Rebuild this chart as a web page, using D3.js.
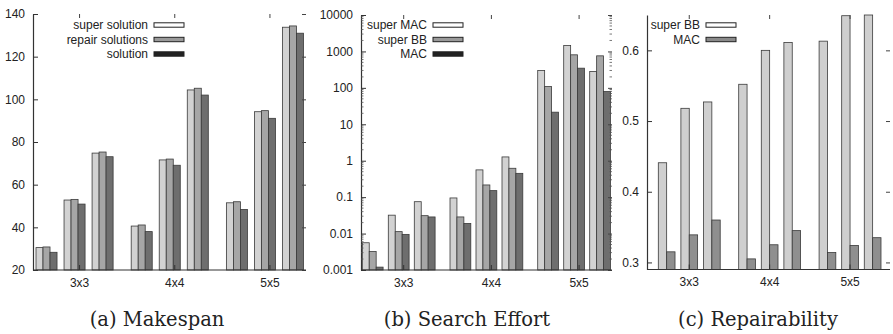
<!DOCTYPE html>
<html><head><meta charset="utf-8">
<script src="https://cdn.jsdelivr.net/npm/d3@7"></script>
<style>
body{margin:0;background:#fff;}
svg{display:block;}
.lbl,.tick text{font-family:"Liberation Sans",Arial,Helvetica,sans-serif;font-size:12px;fill:#222;}
.cap{font-family:"DejaVu Serif",serif;font-size:19.5px;fill:#222;}
</style></head><body>
<svg id="chart" width="893" height="334"></svg>
<script>
// ---------- data ----------
const groups = ["3x3", "4x4", "5x5"];
const instances = ["p1", "p2", "p3"];

const makespanSeries = ["super solution", "repair solutions", "solution"];
const makespanSuper    = [30.5, 52.8, 74.8, 40.6, 71.6, 104.4, 51.5, 94.2, 133.8];
const makespanRepair   = [30.8, 53.1, 75.3, 41.1, 72.0, 105.2, 52.0, 94.7, 134.4];
const makespanSolution = [28.3, 50.9, 73.1, 38.0, 69.1, 102.0, 48.4, 91.1, 131.0];
const makespanTicks = [20, 40, 60, 80, 100, 120, 140];

const effortSeries = ["super MAC", "super BB", "MAC"];
const effortSuperMAC = [0.0056, 0.032, 0.075, 0.095, 0.56, 1.27, 299, 1452, 281];
const effortSuperBB  = [0.0032, 0.0113, 0.031, 0.0286, 0.216, 0.62, 109, 807, 757];
const effortMAC      = [0.0012, 0.0095, 0.0286, 0.019, 0.151, 0.45, 21.5, 347, 79];
const effortTicks = [0.001, 0.01, 0.1, 1, 10, 100, 1000, 10000];
const effortTickLabels = ["0.001", "0.01", "0.1", "1", "10", "100", "1000", "10000"];

const repairSeries = ["super BB", "MAC"];
const repairSuperBB = [0.441, 0.518, 0.527, 0.552, 0.600, 0.611, 0.613, 0.649, 0.650];
const repairMAC     = [0.315, 0.339, 0.360, 0.305, 0.325, 0.345, 0.314, 0.324, 0.335];
const repairTicks = [0.3, 0.4, 0.5, 0.6];

const captions = ["(a) Makespan", "(b) Search Effort", "(c) Repairability"];

// ---------- styles ----------
const barFill3 = ["#d2d2d2", "#a6a6a6", "#6e6e6e"];
const barFill2 = ["#cfcfcf", "#8f8f8f"];
const legendFill3 = ["#ffffff", "#9a9a9a", "#222222"];
const legendFill2 = ["#ffffff", "#8a8a8a"];

const svg = d3.select("#chart");

const panels = [
  { series: makespanSeries, values: [makespanSuper, makespanRepair, makespanSolution],
    type: "linear", domain: [20, 140], ticks: makespanTicks, fmt: d => String(d),
    left: 33, right: 306, top: 14, bottom: 270,
    gRange: [36, 303.5], gPad: 0.19, iPad: 0.25, tickShift: 5,
    fills: barFill3, legFills: legendFill3, legEnd: 148, legY: [25, 39.5, 54],
    caption: captions[0], capX: 157 },
  { series: effortSeries, values: [effortSuperMAC, effortSuperBB, effortMAC],
    type: "log", domain: [0.001, 10000], ticks: effortTicks, fmt: d => effortTickLabels[effortTicks.indexOf(d)],
    left: 361, right: 612, top: 15, bottom: 270,
    gRange: [362.3, 610.5], gPad: 0.17, iPad: 0.2, tickShift: 5,
    fills: barFill3, legFills: legendFill3, legEnd: 427, legY: [25, 39.5, 54],
    caption: captions[1], capX: 467 },
  { series: repairSeries, values: [repairSuperBB, repairMAC],
    type: "linear", domain: [0.29, 0.65], ticks: repairTicks, fmt: d => d.toFixed(1),
    left: 647, right: 890, top: 15, bottom: 269.5,
    gRange: [658.3, 881], gPad: 0.23, iPad: 0.26, tickShift: 0,
    fills: barFill2, legFills: legendFill2, legEnd: 700, legY: [25, 39.5],
    caption: captions[2], capX: 758 }
];

panels.forEach(P => {
  const g = svg.append("g");
  const y = (P.type === "log" ? d3.scaleLog() : d3.scaleLinear())
      .domain(P.domain).range([P.bottom, P.top]);
  const xG = d3.scaleBand().domain(groups).range(P.gRange).paddingInner(P.gPad).paddingOuter(0);
  const xI = d3.scaleBand().domain(instances).range([0, xG.bandwidth()]).paddingInner(P.iPad);
  const xS = d3.scaleBand().domain(P.series).range([0, xI.bandwidth()]);

  // bars
  P.series.forEach((s, si) => {
    const vals = P.values[si];
    const recs = [];
    groups.forEach((gr, gi) => instances.forEach((ins, ii) => {
      recs.push({ gr, ins, v: vals[gi * instances.length + ii] });
    }));
    g.append("g").selectAll("rect").data(recs).join("rect")
      .attr("x", d => xG(d.gr) + xI(d.ins) + xS(s))
      .attr("y", d => y(Math.min(d.v, P.domain[1])))
      .attr("width", xS.bandwidth())
      .attr("height", d => P.bottom - y(Math.min(d.v, P.domain[1])))
      .attr("fill", P.fills[si])
      .attr("stroke", "#3a3a3a")
      .attr("stroke-width", 0.8);
  });

  // left axis
  const yAxis = d3.axisLeft(y).tickValues(P.ticks).tickFormat(P.fmt)
      .tickSizeInner(-5).tickSizeOuter(0).tickPadding(8);
  const ga = g.append("g").attr("transform", `translate(${P.left},0)`).call(yAxis);
  ga.select(".domain").attr("stroke", "#333").attr("stroke-width", 1.2);
  ga.selectAll(".tick line").attr("stroke", "#333");

  // right mirror ticks
  const yAxisR = d3.axisRight(y).tickValues(P.ticks).tickFormat("")
      .tickSizeInner(-4).tickSizeOuter(0);
  const gr = g.append("g").attr("transform", `translate(${P.right},0)`).call(yAxisR);
  gr.select(".domain").remove();
  gr.selectAll(".tick line").attr("stroke", "#444");

  // minor log ticks
  if (P.type === "log") {
    const minors = y.ticks().filter(v => !P.ticks.some(t => Math.abs(t - v) / t < 1e-9));
    [[P.left, 1], [P.right, -1]].forEach(([x0, dir]) => {
      g.append("g").selectAll("line").data(minors).join("line")
        .attr("x1", x0).attr("x2", x0 + dir * 2.5)
        .attr("y1", d => y(d)).attr("y2", d => y(d))
        .attr("stroke", "#555").attr("stroke-width", 0.8);
    });
  }

  // bottom axis
  const xAxis = d3.axisBottom(xG).tickSizeInner(-5).tickSizeOuter(0).tickPadding(8);
  const gb = g.append("g").attr("transform", `translate(${P.tickShift},${P.bottom})`).call(xAxis);
  gb.select(".domain").remove();
  gb.selectAll(".tick line").attr("stroke", "#333");
  g.append("line").attr("x1", P.left).attr("x2", P.right)
    .attr("y1", P.bottom).attr("y2", P.bottom)
    .attr("stroke", "#333").attr("stroke-width", 1.2);

  // top mirror ticks
  const xAxisT = d3.axisTop(xG).tickFormat("").tickSizeInner(-4).tickSizeOuter(0);
  const gt = g.append("g").attr("transform", `translate(${P.tickShift},${P.top})`).call(xAxisT);
  gt.select(".domain").remove();
  gt.selectAll(".tick line").attr("stroke", "#444");

  // legend
  P.series.forEach((s, si) => {
    g.append("text").attr("class", "lbl")
      .attr("x", P.legEnd).attr("y", P.legY[si] + 4.3)
      .attr("text-anchor", "end").text(s);
    g.append("rect")
      .attr("x", P.legEnd + 6).attr("y", P.legY[si] - 2.2)
      .attr("width", 30).attr("height", 4.4)
      .attr("fill", P.legFills[si]).attr("stroke", "#222").attr("stroke-width", 1);
  });

  // caption
  g.append("text").attr("class", "cap")
    .attr("x", P.capX).attr("y", 326)
    .attr("text-anchor", "middle").text(P.caption);
});
</script>
</body></html>
